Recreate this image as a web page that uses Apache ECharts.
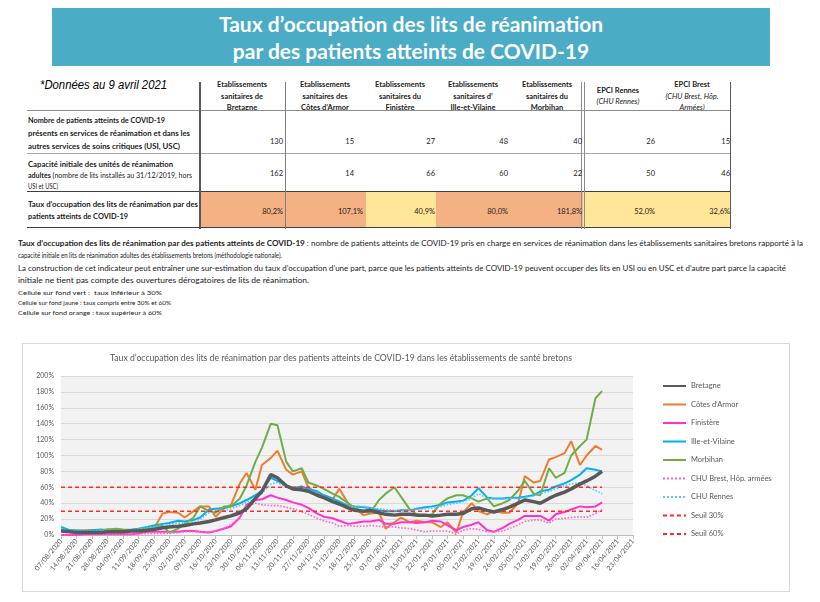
<!DOCTYPE html>
<html><head><meta charset="utf-8">
<script src="https://cdn.jsdelivr.net/npm/echarts@6/dist/echarts.min.js"></script>
<style>
html,body{margin:0;padding:0;}
body{width:820px;height:602px;background:#fff;position:relative;overflow:hidden;font-family:Lato,"Open Sans",sans-serif;color:#000;}
.a{position:absolute;white-space:nowrap;line-height:1;}
#banner{position:absolute;left:52px;top:8px;width:718px;height:58px;background:#4BACC6;color:#fff;font-weight:bold;font-size:21px;text-align:center;line-height:27px;padding-top:2px;box-sizing:border-box;}
.hl{position:absolute;height:0;}
.vl{position:absolute;width:0;}
.b{font-weight:bold;}
.i{font-style:italic;}
#chart{position:absolute;left:22px;top:343px;width:768px;height:249px;border:1px solid #d9d9d9;box-sizing:border-box;}
</style></head><body>
<div id="banner">Taux d’occupation des lits de réanimation<br>par des patients atteints de COVID-19</div>
<div id="table"></div>
<div id="notes"></div>
<div id="chart"></div>
<script>
// ---------- Table data ----------
const tableDate = '*Données au 9 avril 2021';
const colHeaders = [
  ['Etablissements','sanitaires de','Bretagne'],
  ['Etablissements','sanitaires des','Côtes d’Armor'],
  ['Etablissements','sanitaires du','Finistère'],
  ['Etablissements','sanitaires d’','Ille-et-Vilaine'],
  ['Etablissements','sanitaires du','Morbihan'],
  ['EPCI Rennes','(CHU Rennes)'],
  ['EPCI Brest','(CHU Brest, Hôp.','Armées)']
];
const patients = [130, 15, 27, 48, 40, 26, 15];
const capacity = [162, 14, 66, 60, 22, 50, 46];
const rates = [80.2, 107.1, 40.9, 80.0, 181.8, 52.0, 32.6];

// ---------- Chart data ----------
const chartTitle = 'Taux d’occupation des lits de réanimation par des patients atteints de COVID-19 dans les établissements de santé bretons';
const seriesNames = ['Bretagne','Côtes d’Armor','Finistère','Ille-et-Vilaine','Morbihan','CHU Brest, Hôp. armées','CHU Rennes','Seuil 30%','Seuil 60%'];
// day offsets from 07/08/2020 at which values were read
const sampleDay = [0,4,7,11,14,18,21,25,28,32,35,39,42,46,49,53,56,60,63,67,70,74,77,81,84,88,91,95,98,102,105,109,112,116,119,123,126,130,133,137,140,144,147,151,154,158,161,165,168,172,175,179,182,186,189,193,196,200,203,207,210,214,217,221,224,228,231,235,238,242,245];
const bretagne = [5,4,3,3,3,3,4,4,4,5, 5,6,7,9,10,11,12,14,15,17, 19,22,24,28,33,46,55,76,72,62, 58,57,55,50,47,42,39,34,31,30, 31,28,26,25,26,26,25,25,24,25, 26,26,27,33,34,31,29,32,35,40, 44,42,40,46,50,54,58,64,68,74, 80];
const cotesArmor = [6,6,5,6,6,6,7,6,5,6, 5,6,8,27,29,28,22,30,36,36, 23,34,38,65,78,57,88,97,106,82, 76,80,60,52,50,45,58,40,34,25, 27,28,8,16,22,16,18,16,16,10, 16,3,28,40,30,26,30,28,28,40, 74,66,68,95,98,103,118,88,100,112, 107];
const finistere = [0,0,0,1,1,1,1,1,1,1, 2,4,4,4,4,4,5,5,4,3, 5,8,11,22,38,44,45,50,47,44, 41,38,34,27,23,21,18,14,15,17, 17,19,14,14,16,16,15,16,18,17, 12,6,10,13,16,6,4,9,14,19, 24,24,24,18,26,29,32,36,35,36, 41];
const illeVilaine = [10,6,6,5,6,7,6,6,6,7, 8,10,12,14,15,18,17,19,22,32, 33,34,36,40,44,50,56,72,68,62, 59,61,58,55,50,46,42,37,36,35, 34,31,30,30,31,31,33,35,36,38, 41,42,43,50,59,47,46,46,47,47, 48,50,55,57,61,65,69,76,84,82, 80];
const morbihan = [5,5,4,3,3,5,7,8,7,6, 7,8,10,12,3,8,14,22,36,30, 28,36,36,46,62,92,110,140,138,92, 80,84,66,62,58,52,48,40,34,30, 28,44,52,60,48,32,26,24,26,40, 46,50,50,46,42,46,36,40,44,56, 68,52,50,84,72,78,100,112,120,172, 181];
const chuBrest = [0,0,0,0,0,1,1,1,1,1, 1,2,2,2,2,3,4,4,4,4, 5,9,13,22,36,40,38,37,37,35, 33,29,26,21,18,15,11,12,11,11, 12,11,10,10,9,8,6,4,5,5, 5,1,6,8,7,4,4,5,8,13, 17,19,19,15,20,21,22,23,22,27, 32];
const chuRennes = [8,5,5,5,5,6,6,5,5,6, 7,9,10,12,13,15,15,17,20,28, 30,31,33,37,41,46,52,64,66,60, 57,56,56,52,48,44,40,36,36,36, 34,33,32,31,30,31,32,33,34,36, 38,40,42,46,52,46,46,45,46,46, 47,49,52,55,58,62,64,66,62,56, 52];
const seuils = [30, 60];
const yTicks = [0,20,40,60,80,100,120,140,160,180,200];

// ---------- Build table ----------
const T = document.getElementById('table');
function add(html){ T.insertAdjacentHTML('beforeend', html); }
add(`<div class="a i" data-w="127" style="left:40px;top:79px;font-size:12px;font-family:'Liberation Sans',Arial,sans-serif;">${tableDate}</div>`);
const colL = [200,286,366,436,510,583,657];
const colR = [286,366,436,510,583,657,731];
const hdrCenter = [242,325,400,473,547,618,692];
colHeaders.forEach((h,ci)=>{
  const isEpci = ci>=5;
  const ys = (h.length===2) ? [91,102] : [85,97,108];
  h.forEach((t,li)=>{
    const it = isEpci && li>0;
    add(`<div class="a ${it?'i':'b'}" style="left:${hdrCenter[ci]}px;top:${ys[li]-4}px;font-size:7.5px;transform:translateX(-50%);color:#222;">${t}</div>`);
  });
});
// row 3 cell fills
function fill(r){ return r<30?'#C6E0B4':(r<=60?'#FFE699':'#F4B183'); }
rates.forEach((r,ci)=>{
  add(`<div class="a" style="left:${colL[ci]}px;top:192px;width:${colR[ci]-colL[ci]}px;height:36px;background:${fill(r)};"></div>`);
});
// lines
function hline(y,x1,x2,c,w){ add(`<div class="hl" style="left:${x1}px;top:${y}px;width:${x2-x1}px;border-top:${w}px solid ${c};"></div>`); }
function vline(x,y1,y2,c,w){ add(`<div class="vl" style="left:${x}px;top:${y1}px;height:${y2-y1}px;border-left:${w}px solid ${c};"></div>`); }
hline(110,27,731,'#8c8c8c',1);
hline(153,27,731,'#a6a6a6',1);
hline(191,27,731,'#404040',1.5);
hline(227,27,731,'#404040',1.5);
vline(199,82,229,'#595959',2);
vline(285,82,229,'#7f7f7f',1.5);
vline(581,82,229,'#8c8c8c',1);
vline(584,82,229,'#8c8c8c',1);
vline(730,82,229,'#595959',1.5);
// row labels
const rowLbl = [
  [[121,'<b>Nombre de patients atteints de COVID-19</b>',137],[134,'<b>présents en services de réanimation et dans les</b>',162],[147,'<b>autres services de soins critiques (USI, USC)</b>',152]],
  [[165,'<b>Capacité initiale des unités de réanimation</b>',145],[176,'<b>adultes</b> (nombre de lits installés au 31/12/2019, hors',164],[187,'USI et USC)',30]],
  [[205,'<b>Taux d’occupation des lits de réanimation par des</b>',170],[217,'<b>patients atteints de COVID-19</b>',100]]
];
rowLbl.forEach(r=>r.forEach(([y,t,w])=>{
  add(`<div class="a" data-w="${w}" style="left:28px;top:${y-4}px;font-size:7px;color:#222;">${t}</div>`);
}));
// values
const rightA = [283,354,435,508,582,655,730];
const rightB = [283,363,435,508,582,655,730];
function fmt(v){ return v.toFixed(1).replace('.',',')+'%'; }
patients.forEach((v,ci)=>add(`<div class="a" style="left:${rightA[ci]}px;top:138px;font-size:7.5px;transform:translateX(-100%);color:#222;">${v}</div>`));
capacity.forEach((v,ci)=>add(`<div class="a" style="left:${rightA[ci]}px;top:170px;font-size:7.5px;transform:translateX(-100%);color:#222;">${v}</div>`));
rates.forEach((v,ci)=>add(`<div class="a" style="left:${rightB[ci]}px;top:208px;font-size:7.5px;transform:translateX(-100%);color:#222;">${fmt(v)}</div>`));

// ---------- Notes ----------
const noteLines = [
  ['<b>Taux d’occupation des lits de réanimation par des patients atteints de COVID-19</b> : nombre de patients atteints de COVID-19 pris en charge en services de réanimation dans les établissements sanitaires bretons rapporté à la',244,785,7.2],
  ['capacité initiale en lits de réanimation adultes des établissements bretons (méthodologie nationale).',256,264,7.2],
  ['La construction de cet indicateur peut entraîner une sur-estimation du taux d’occupation d’une part, parce que les patients atteints de COVID-19 peuvent occuper des lits en USI ou en USC et d’autre part parce la capacité',269,768,7.2],
  ['initiale ne tient pas compte des ouvertures dérogatoires de lits de réanimation.',281,291,7.2],
  ['Cellule sur fond vert :&nbsp; taux inférieur à 30%',293,144,6.5],
  ['Cellule sur fond jaune : taux compris entre 30% et 60%',303,153,6.5],
  ['Cellule sur fond orange : taux supérieur à 60%',313,144,6.5]
];
const N = document.getElementById('notes');
noteLines.forEach(([t,y,w,fs])=>{
  N.insertAdjacentHTML('beforeend', `<div class="a" data-w="${w}" style="left:18px;top:${y-fs/2}px;font-size:${fs}px;color:#222;">${t}</div>`);
});
document.querySelectorAll('[data-w]').forEach(el=>{
  const w = el.getBoundingClientRect().width;
  el.style.transformOrigin = 'left center';
  el.style.transform = `scaleX(${(+el.dataset.w)/w})`;
});

// ---------- Chart ----------
const categories = [];
for (let i=0;i<260;i++){
  const d = new Date(2020,7,7+i);
  categories.push(String(d.getDate()).padStart(2,'0')+'/'+String(d.getMonth()+1).padStart(2,'0')+'/'+d.getFullYear());
}
const pairs = arr => sampleDay.map((d,i)=>[d, arr[i]]);
const lastDay = sampleDay[sampleDay.length-1];
const styles = [
  {c:'#595959',w:3.5,t:'solid'},
  {c:'#ED7D31',w:2,t:'solid'},
  {c:'#FF33CC',w:2,t:'solid'},
  {c:'#00B0F0',w:2,t:'solid'},
  {c:'#70AD47',w:2,t:'solid'},
  {c:'#FF66CC',w:1.6,t:'dotted'},
  {c:'#5BC8F5',w:1.6,t:'dotted'},
  {c:'#FF2A2A',w:1.5,t:[4,3]},
  {c:'#FF2A2A',w:1.5,t:[4,3]}
];
const values = [bretagne,cotesArmor,finistere,illeVilaine,morbihan,chuBrest,chuRennes];
const series = seriesNames.map((n,i)=>{
  const data = i<7 ? pairs(values[i]) : [[0,seuils[i-7]],[lastDay,seuils[i-7]]];
  return {name:n,type:'line',data,showSymbol:false,symbol:'none',
    lineStyle:{color:styles[i].c,width:styles[i].w,type:styles[i].t},
    itemStyle:{color:styles[i].c}, z: i===0?3:2};
});
const chart = echarts.init(document.getElementById('chart'));
chart.setOption({
  animation:false,
  textStyle:{fontFamily:'Lato'},
  graphic:[{type:'text',x:318,y:14,style:{text:chartTitle,textAlign:'center',align:'center',textVerticalAlign:'middle',verticalAlign:'middle',font:'8.7px Lato',fill:'#595959'}}],
  legend:{orient:'vertical',left:634,top:33,itemWidth:23,itemHeight:10,itemGap:10.5,
    itemStyle:{opacity:0},
    textStyle:{fontSize:7.5,color:'#595959',fontFamily:'Lato'},data:seriesNames},
  grid:{left:38,right:156,top:32,bottom:56,show:true,backgroundColor:'#F2F2F2',borderWidth:0},
  xAxis:{type:'category',data:categories,boundaryGap:false,
    axisLine:{lineStyle:{color:'#bfbfbf'}},
    axisTick:{interval:6,length:4,lineStyle:{color:'#bfbfbf'}},
    axisLabel:{interval:6,rotate:50,fontSize:7,color:'#595959',margin:5},
    splitLine:{show:false}},
  yAxis:{type:'value',min:yTicks[0],max:yTicks[yTicks.length-1],interval:yTicks[1]-yTicks[0],
    axisLabel:{formatter:'{value}%',fontSize:7,color:'#595959',margin:7},
    axisLine:{show:false},axisTick:{show:false},
    splitLine:{lineStyle:{color:'#D9D9D9'}}},
  series
});
</script>
</body></html>
